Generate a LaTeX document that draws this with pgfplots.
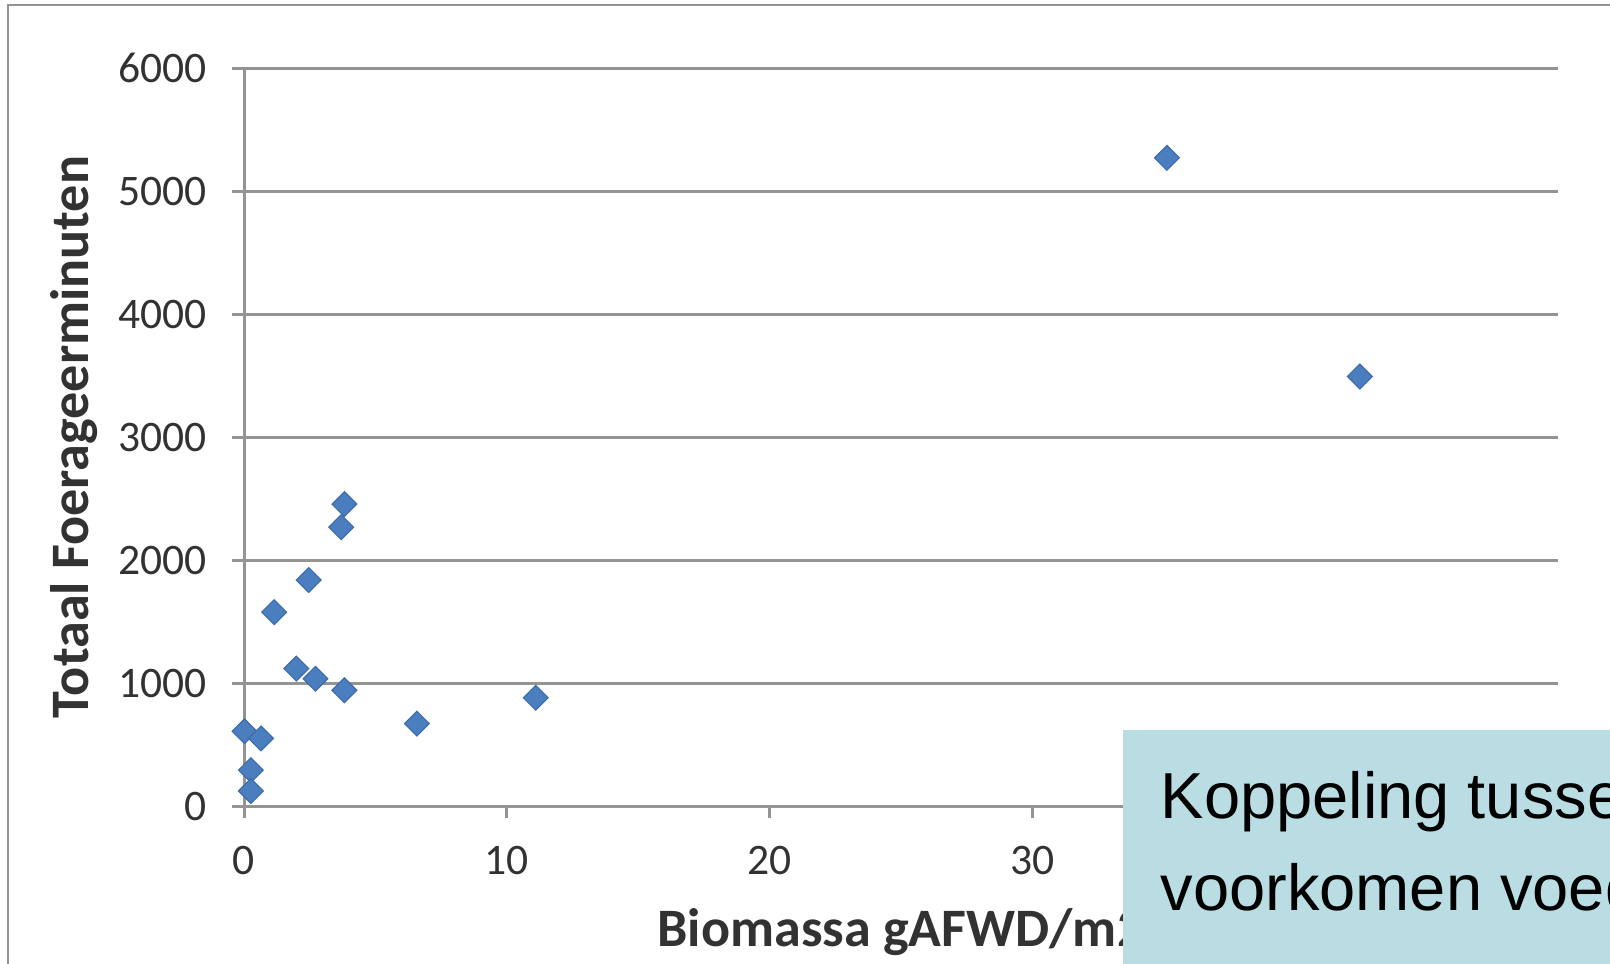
\documentclass[border=0pt]{standalone}
\usepackage{pgfplots}
\pgfplotsset{compat=1.18}
\usepackage{fontspec}
\setmainfont{Carlito}
\newfontfamily\arialf{Liberation Sans}
\definecolor{mblue}{RGB}{74,126,190}
\definecolor{mborder}{RGB}{60,106,168}
\definecolor{gridg}{RGB}{148,148,148}
\definecolor{boxblue}{RGB}{185,221,226}
\definecolor{txtg}{RGB}{50,50,50}
\begin{document}
\begin{tikzpicture}[x=1cm,y=1cm]
\path[use as bounding box] (0,0) rectangle (16.10,9.63);
\clip (0,0) rectangle (16.10,9.63);
\fill[white] (0,0) rectangle (16.10,9.63);
\draw[gridg, line width=0.25mm] (0.082,-0.2) -- (0.082,9.58) -- (16.3,9.58);
\begin{axis}[
  at={(2.44cm,1.57cm)}, anchor=south west,
  scale only axis, width=13.14cm, height=7.38cm,
  xmin=0, xmax=50, ymin=0, ymax=6000,
  axis x line=bottom, axis y line=left,
  axis line style={-, gridg, line width=0.3mm},
  xtick={0,10,20,30},
  ytick={0,1000,2000,3000,4000,5000,6000},
  tick align=outside, major tick length=1.2mm,
  tick style={gridg, line width=0.3mm},
  ymajorgrids, grid style={gridg, line width=0.3mm},
  /pgf/number format/assume math mode=true,
  /pgf/number format/1000 sep={},
  ticklabel style={font=\fontsize{12.4}{14}\selectfont, text=txtg},
  yticklabel style={xshift=-1.3mm},
  xticklabel style={yshift=-1.6mm},
  xlabel={Biomassa gAFWD/m2},
  ylabel={Totaal Foerageerminuten},
  xlabel style={at={(axis description cs:0.5,-0.191)}, anchor=base, font=\fontsize{15.4}{18}\selectfont\bfseries, text=txtg},
  ylabel style={at={(axis description cs:-0.1291,0.5)}, anchor=center, font=\fontsize{15.4}{18}\selectfont\bfseries, text=txtg},
  clip=false,
]
\addplot[only marks, mark=square*, mark size=2.5pt,
  mark options={rotate=45, fill=mblue, draw=mborder, line width=0.3pt}]
coordinates {
(35.12,5270) (42.46,3492) (3.82,2455) (3.70,2267) (2.46,1837)
(1.15,1576) (1.99,1117) (2.72,1035) (3.82,941) (11.10,880)
(6.58,670) (0.02,608) (0.65,549) (0.26,292) (0.26,122)
};
\end{axis}
\fill[boxblue] (11.23,-0.2) rectangle (16.3,2.33);
\node[anchor=base west, inner sep=0pt, font=\arialf\fontsize{18.5}{22}\selectfont] at (11.60,1.447) {Koppeling tussen};
\node[anchor=base west, inner sep=0pt, font=\arialf\fontsize{18.5}{22}\selectfont] at (11.60,0.53) {voorkomen voedsel};
\end{tikzpicture}
\end{document}
